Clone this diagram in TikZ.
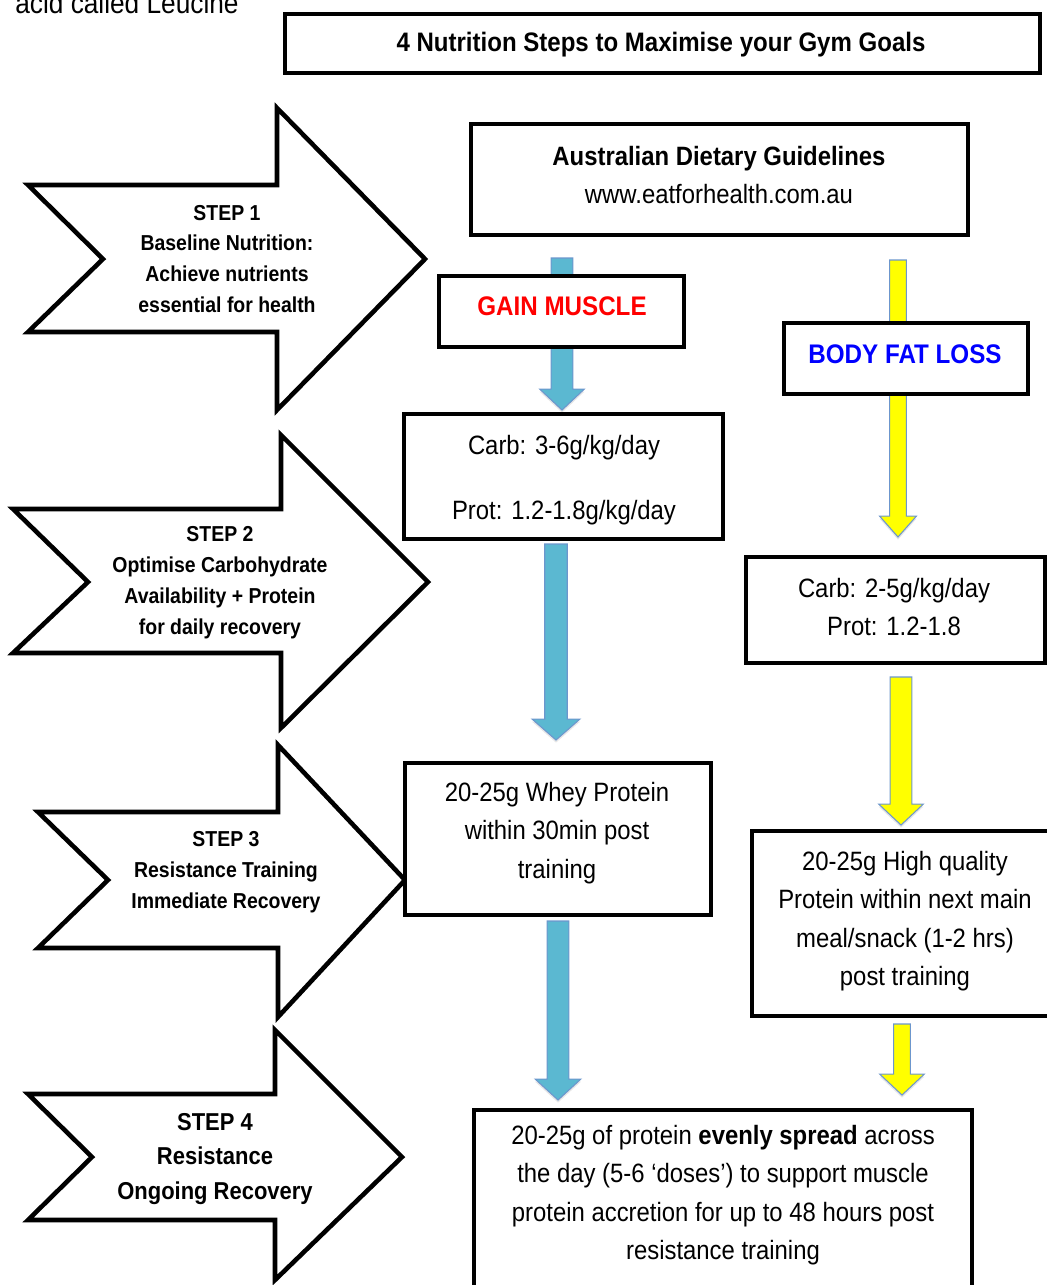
\documentclass[tikz,border=0pt]{standalone}
\usepackage{fontspec}
\setmainfont{Liberation Sans}[FakeStretch=0.9]
\usetikzlibrary{calc,shadows}

\definecolor{muscleblue}{RGB}{91,184,209}
\definecolor{fatyellow}{RGB}{255,255,0}
\definecolor{arrowedge}{RGB}{108,150,205}

% fat down arrow: style, from, to, half shaft, half head
\newcommand{\fatarrow}[5]{%
  \draw[#1] let \p1=(#2), \p2=(#3) in
    (\x1-#4,\y1) -- (\x1+#4,\y1) -- (\x1+#4,\y2+11.9pt) -- (\x1+#5,\y2+11.9pt)
    -- (\x1,\y2) -- (\x1-#5,\y2+11.9pt) -- (\x1-#4,\y2+11.9pt) -- cycle;}

\tikzset{
  box/.style={draw, line width=2.4pt, fill=white, inner sep=0pt, line join=miter},
  body/.style={align=center, font=\fontsize{15.1}{21.8}\selectfont},
  steptext/.style={align=center, font=\bfseries\fontsize{12.3}{17.6}\selectfont},
  goaltext/.style={font=\bfseries\fontsize{15.3}{18}\selectfont},
  stepshape/.style={draw, line width=2.6pt, fill=white, line join=miter},
  bluearrow/.style={fill=muscleblue, draw=arrowedge, line width=0.6pt,
    drop shadow={opacity=0.2, shadow xshift=0pt, shadow yshift=-1.5pt}},
  yellowarrow/.style={fill=fatyellow, draw=arrowedge, line width=0.6pt,
    drop shadow={opacity=0.2, shadow xshift=0pt, shadow yshift=-1.5pt}}
}

\begin{document}
\begin{tikzpicture}[x=0.02cm, y=-0.02cm]
  \useasboundingbox (0,0) rectangle (1047,1285);

  \node[anchor=base west, inner sep=0pt, font=\fontsize{16.6}{19}\selectfont] (leucine) at (15,13) {acid called Leucine};

  \node[box, minimum width=15.1cm, minimum height=1.18cm] (title) at (662.5,43.5) {};
  \node[font=\bfseries\fontsize{15.2}{18}\selectfont] (titletext) at (661,45)
    {4 Nutrition Steps to Maximise your Gym Goals};

  % step arrows
  \draw[stepshape] (28,185) -- (277,185) -- (277,108) -- (425,259) -- (277,410)
    -- (277,332) -- (28,332) -- (103,259) -- cycle;
  \node[steptext] (step1) at (227,259) {STEP 1\\Baseline Nutrition:\\Achieve nutrients\\essential for health};

  \draw[stepshape] (13,509) -- (281,509) -- (281,435) -- (428,582) -- (281,728)
    -- (281,653) -- (13,653) -- (88,582) -- cycle;
  \node[steptext] (step2) at (220,583) {STEP 2\\Optimise Carbohydrate\\Availability + Protein\\for daily recovery};

  \draw[stepshape] (38,812) -- (278,812) -- (278,745) -- (405,880) -- (278,1017)
    -- (278,948) -- (38,948) -- (108,880) -- cycle;
  \node[steptext] (step3) at (226,872) {STEP 3\\Resistance Training\\Immediate Recovery};

  \draw[stepshape] (28,1094) -- (275,1094) -- (275,1030) -- (402,1157) -- (275,1280)
    -- (275,1220) -- (28,1220) -- (92,1157) -- cycle;
  \node[steptext, font=\bfseries\fontsize{13.9}{19.6}\selectfont] (step4) at (215,1159) {STEP 4\\Resistance\\Ongoing Recovery};

  % connector ends
  \coordinate (m1) at (562,258);  \coordinate (m1e) at (562,410);
  \coordinate (m2) at (556,544);  \coordinate (m2e) at (556,740);
  \coordinate (m3) at (558,921);  \coordinate (m3e) at (558,1100);
  \coordinate (f1) at (898,260);  \coordinate (f1e) at (898,537);
  \coordinate (f2) at (901,677);  \coordinate (f2e) at (901,825);
  \coordinate (f3) at (902,1024); \coordinate (f3e) at (902,1095);

  \fatarrow{bluearrow}{m1}{m1e}{6.2pt}{12.7pt}
  \fatarrow{bluearrow}{m2}{m2e}{6.4pt}{13.6pt}
  \fatarrow{bluearrow}{m3}{m3e}{6.2pt}{13pt}
  \fatarrow{yellowarrow}{f1}{f1e}{4.8pt}{10.5pt}
  \fatarrow{yellowarrow}{f2}{f2e}{6.2pt}{12.7pt}
  \fatarrow{yellowarrow}{f3}{f3e}{4.8pt}{12.7pt}

  % boxes
  \node[box, minimum width=9.94cm, minimum height=2.22cm] (adg) at (719.5,179.5) {};
  \node[body] (adgtext) at (719,175) {\textbf{Australian Dietary Guidelines}\\www.eatforhealth.com.au};

  \node[box, minimum width=4.9cm, minimum height=1.42cm] (gain) at (561.5,311.5) {};
  \node[goaltext, text=red] (gaintext) at (562,306) {GAIN MUSCLE};

  \node[box, minimum width=4.88cm, minimum height=1.42cm] (fat) at (906,358.5) {};
  \node[goaltext, text=blue] (fattext) at (905,354) {BODY FAT LOSS};

  \node[box, minimum width=6.38cm, minimum height=2.5cm] (carbA) at (563.5,476.5) {};
  \node[body] (carbAtext) at (564,480) {Carb: 3-6g/kg/day\\[15pt]Prot: 1.2-1.8g/kg/day};

  \node[box, minimum width=6.12cm, minimum height=3.04cm] (whey) at (558,839) {};
  \node[body] (wheytext) at (557,833) {20-25g Whey Protein\\within 30min post\\training};

  \node[box, minimum width=5.98cm, minimum height=2.12cm] (carbB) at (895.5,610) {};
  \node[body] (carbBtext) at (894,607) {Carb: 2-5g/kg/day\\Prot: 1.2-1.8};

  \node[box, minimum width=6.16cm, minimum height=3.7cm] (hq) at (906,923.5) {};
  \node[body] (hqtext) at (905,921) {20-25g High quality\\Protein within next main\\meal/snack (1-2 hrs)\\post training};

  \node[box, minimum width=9.96cm, minimum height=4.4cm, anchor=north] (spread) at (723,1108) {};
  \node[body] (spreadtext) at (723,1195)
    {20-25g of protein \textbf{evenly spread} across\\the day (5-6 ‘doses’) to support muscle\\protein accretion for up to 48 hours post\\resistance training};
\end{tikzpicture}
\end{document}
